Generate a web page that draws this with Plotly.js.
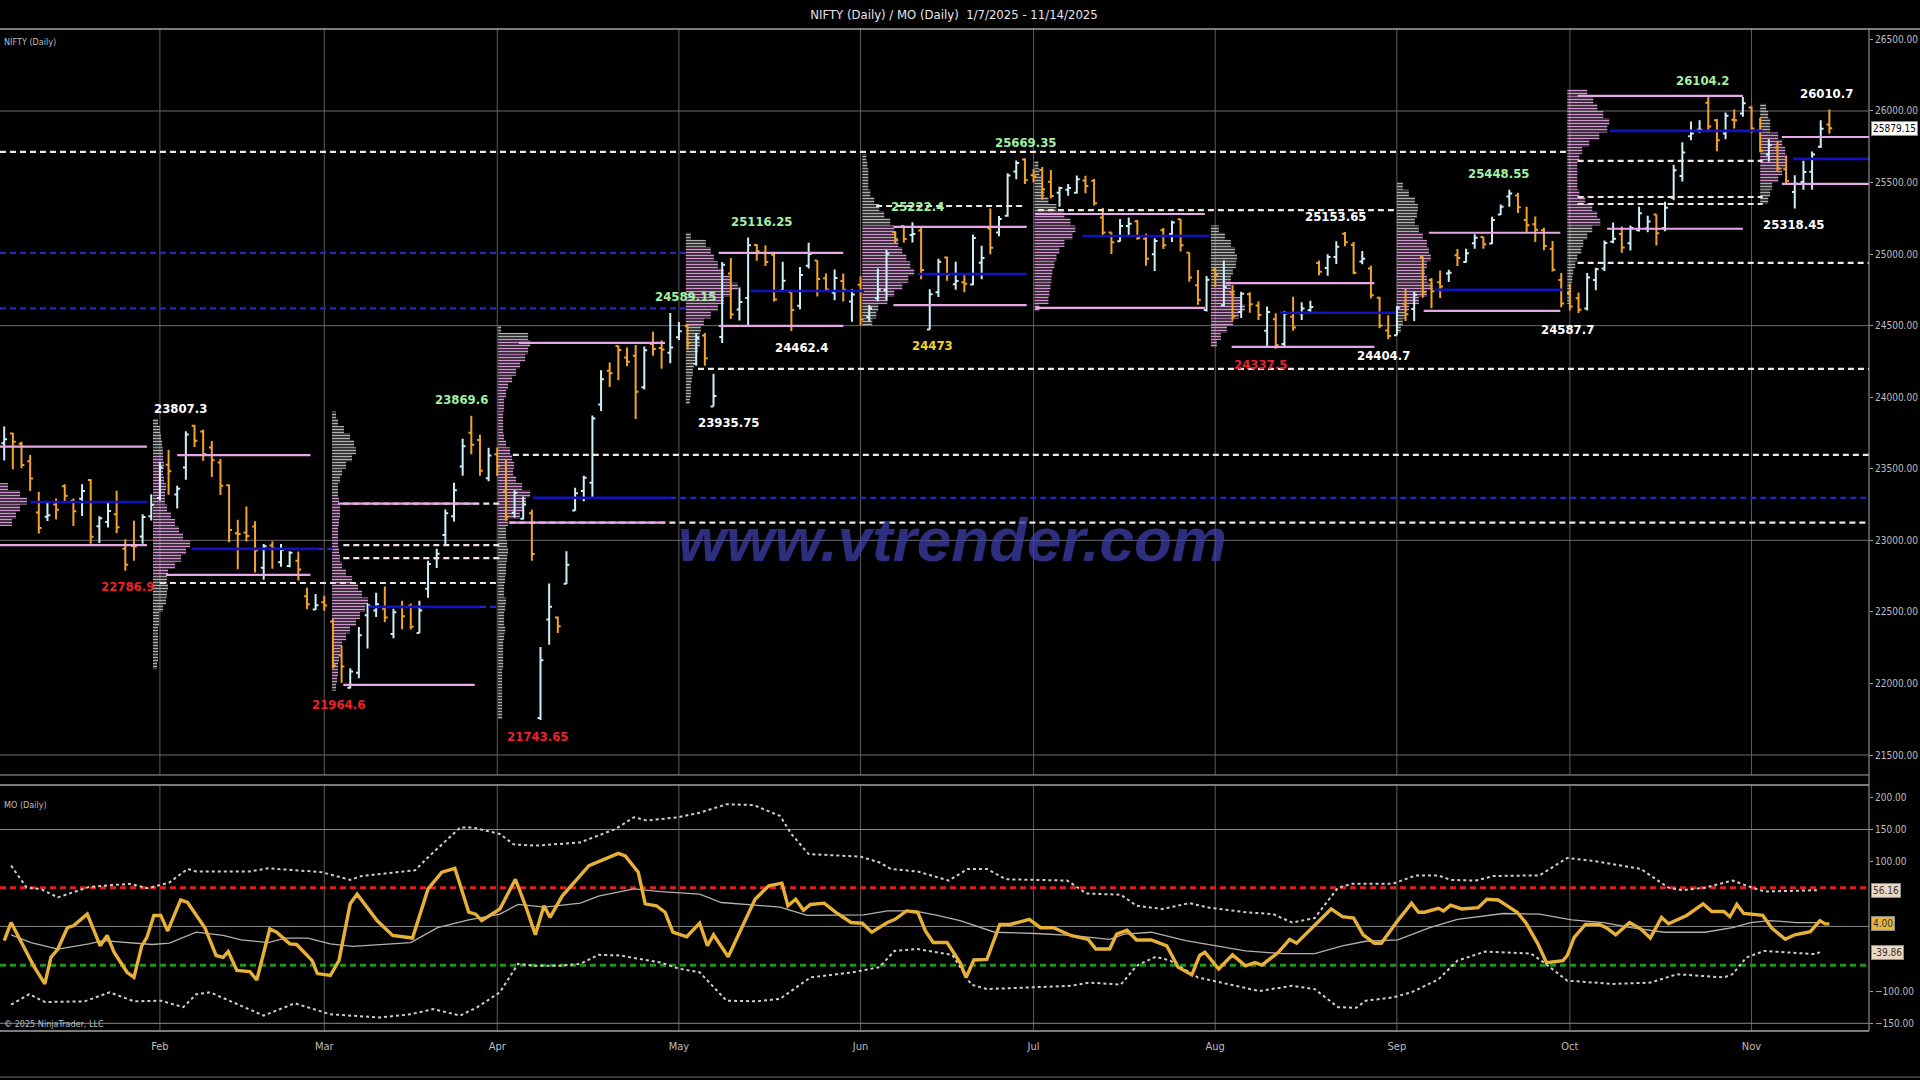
<!DOCTYPE html>
<html><head><meta charset="utf-8">
<script src="https://cdn.plot.ly/plotly-3.0.1.min.js"></script>
<style>html,body{margin:0;padding:0;background:#000;}#chart{width:1920px;height:1080px;}</style>
</head><body><div id="chart"></div>
<script>
// ---------------- DATA ----------------
const open  = [23679,23746,23674,23552,23195,23165,23250,23377,23277,23290,23421,23099,23128,23183,22941,22961,23026,23169,23296,
 23528,23320,23509,23801,23761,23649,23543,23384,23050,23055,23097,22809,22963,22847,22821,22857,22610,22516,22568,22433,
 22195,21970,22074,22476,22509,22522,22346,22537,22541,22353,22662,22874,23037,23168,23515,23751,23701,23433,23601,
 23342,23192,23151,23190,21758,22446,22460,22696,23208,23345,23402,23949,24185,24357,24277,24289,24070,24371,24343,
 24311,24419,24500,24234,24431,23935,24420,24864,24613,24694,25064,25005,24996,24745,24733,24639,24919,24956,24832,24729,24812,
 24669,24786,24560,24691,24749,25155,25196,25134,25164,24473,24733,24977,24789,24803,24787,24939,25179,25150,25268,25577,25661,
 25551,25588,25505,25428,25450,25428,25514,25512,25255,25150,25090,25196,25230,25108,24999,25167,25140,25243,25010,24782,24609,24890,24642,
 24734,24596,24720,24641,24464,24544,24371,24563,24586,24607,24938,24903,24980,25142,25065,24949,24900,24695,24466,
 24433,24653,24616,24980,24819,24803,24864,24991,24945,25075,25119,25074,25277,25403,25410,25238,25209,25167,25035,24819,24728,24691,
 24620,24819,24899,25086,25140,25075,25167,25179,25277,25182,25394,25546,25824,25868,26057,25935,25843,25939,25982,26025,25864,
 25696,25745,25593,25433,25504,25576,25750,25906];
const high  = [23795,23751,23689,23596,23340,23264,23293,23391,23292,23391,23426,23169,23270,23347,23007,23137,23183,23322,23546,
 23632,23381,23763,23807,23773,23694,23568,23390,23144,23236,23133,22975,22993,22975,22923,22922,22668,22625,22613,22450,
 22262,22106,22395,22556,22633,22677,22522,22578,22558,22577,22857,22941,23216,23403,23709,23870,23737,23647,23649,
 23565,23350,23306,23214,22254,22698,22468,22924,23368,23452,23873,24189,24242,24359,24347,24365,24355,24457,24396,
 24589,24526,24510,24449,24448,24164,24944,24973,24767,25116,25070,25062,25010,24946,24733,24909,25079,24956,24865,24892,24864,
 24754,24845,24644,24899,25029,25160,25199,25222,25196,24754,24968,24983,24947,24863,25137,25058,25318,25266,25565,25654,25669,
 25593,25608,25587,25470,25489,25549,25548,25525,25322,25151,25245,25255,25238,25144,25111,25182,25233,25246,25011,24889,24847,24902,24956,
 24784,24736,24734,24671,24634,24586,24602,24702,24664,24674,24956,24999,25089,25154,25084,25022,24919,24702,24572,
 24636,24756,24737,24981,24833,24886,24891,25036,25037,25139,25120,25261,25346,25449,25429,25331,25262,25184,25092,24868,24791,24731,
 24867,24904,25095,25220,25192,25199,25331,25267,25277,25366,25625,25781,25927,25935,26104,25944,25990,26011,26098,26033,25953,
 25803,25788,25679,25551,25653,25717,25935,26011];
const low   = [23557,23496,23503,23344,23047,23135,23146,23273,23100,23170,22976,22981,23090,23050,22787,22857,22976,23139,23278,
 23318,23222,23423,23652,23556,23443,23316,22987,22798,22992,22775,22725,22801,22815,22812,22720,22518,22513,22508,22105,
 22005,21965,22036,22245,22464,22429,22315,22378,22377,22353,22599,22807,22974,23132,23452,23601,23452,23413,23450,
 23136,23158,23145,22858,21744,22270,22353,22695,23207,23273,23299,23903,24072,24119,24216,23847,24054,24290,24198,
 24238,24400,24331,24220,24220,23936,24378,24547,24536,24494,24953,24916,24669,24737,24462,24614,24900,24704,24737,24677,24669,
 24527,24502,24530,24671,24674,25077,25081,25081,24825,24473,24700,24813,24750,24733,24784,24824,24999,25125,25260,25523,25489,
 25501,25379,25388,25331,25408,25424,25425,25340,25129,25001,25088,25121,25100,24918,24882,25036,25085,25018,24806,24646,24599,24771,24636,
 24535,24554,24590,24539,24345,24338,24347,24465,24539,24586,24852,24848,24930,25054,24859,24929,24689,24481,24405,
 24433,24532,24533,24695,24621,24693,24805,24916,24941,25038,25038,25070,25273,25330,25287,25151,25084,25027,24878,24629,24606,24588,
 24605,24747,24881,25076,25009,25025,25157,25152,25060,25159,25376,25508,25795,25848,25863,25718,25803,25877,25960,25846,25712,
 25645,25578,25491,25318,25449,25449,25741,25840];
const close = [23707,23689,23526,23432,23086,23176,23213,23312,23203,23345,23025,23155,23205,23092,22829,22957,23163,23249,23508,
 23482,23361,23739,23696,23603,23560,23381,23072,23045,23031,22929,22959,22945,22933,22913,22796,22553,22547,22545,22125,
 22119,22083,22337,22545,22553,22460,22497,22470,22397,22509,22834,22907,23190,23350,23658,23668,23486,23592,23519,
 23165,23332,23250,22904,22162,22536,22399,22829,23329,23437,23852,24126,24167,24329,24247,24039,24328,24336,24334,
 24347,24461,24380,24414,24273,24008,24925,24578,24666,25062,25020,24945,24683,24813,24610,24853,25001,24826,24752,24833,24751,
 24717,24543,24621,24751,25003,25103,25105,25141,24888,24719,24947,24853,24812,24793,25112,24972,25045,25245,25549,25637,25517,
 25542,25453,25405,25461,25461,25523,25476,25355,25150,25082,25196,25212,25112,24968,25091,25061,25220,25062,24837,24681,24821,24855,24768,
 24565,24723,24650,24574,24596,24363,24585,24487,24619,24631,24877,24980,25051,25083,24870,24968,24712,24501,24427,
 24625,24580,24716,24734,24741,24773,24869,24973,25005,25114,25069,25239,25330,25424,25327,25202,25170,25057,24891,24655,24634,24611,
 24836,24894,25077,25108,25046,25182,25285,25227,25146,25324,25586,25710,25843,25869,25891,25795,25966,25936,26054,25878,25722,
 25763,25598,25510,25492,25574,25695,25876,25879];

const monthIdx   = [18,37,57,78,99,119,140,161,181,202];
const monthNames = ['Feb','Mar','Apr','May','Jun','Jul','Aug','Sep','Oct','Nov'];
const priceTicks = [21500,22000,22500,23000,23500,24000,24500,25000,25500,26000,26500];
const priceGrid  = [21500,23000,24500,26000];
const moTicks    = [-150,-100,100,150,200];
const moGrid     = [-150,0,150];
const moUpperLvl = 60, moLowerLvl = -60;

// volume profiles (volume units, lowest price level first, 50-pt levels)
const volJan = [12,16,20,27,20,8];
const volFeb = [4,5,5,5,5,5,6,6,10,13,14,15,14,15,22,28,33,37,30,26,22,18,14,12,12,13,11,10,11,10,10,9,8,7,5];
const volMar = [4,5,6,6,7,8,10,14,18,24,28,33,36,30,26,20,14,10,8,7,6,6,6,7,8,8,7,6,6,8,10,14,20,24,22,18,12,6,4];
const volApr = [4,4,4,4,4,4,4,5,5,5,5,6,7,6,6,7,8,6,6,7,8,8,9,10,9,8,8,10,22,25,28,32,24,18,15,16,14,12,8,6,5,5,5,6,6,8,10,14,18,22,27,30,32,30,3];
const volMay = [4,5,5,6,7,8,10,12,14,14,15,18,25,32,38,45,52,45,38,32,28,25,20,5];
const volJun = [10,14,16,25,32,40,46,52,48,44,40,36,34,32,28,22,17,12,8,6,6,6,5,4];
const volJul = [5,14,15,16,17,18,20,22,25,30,38,41,36,30,22,14,10,8,7,5,4];
const volAug = [6,10,16,22,28,34,30,24,20,20,22,25,26,24,20,14,8];
const volSep = [4,6,8,12,22,30,36,30,28,30,34,32,30,26,22,18,20,21,18,12,6];
const volOct = [4,4,4,5,6,8,10,14,16,20,25,33,30,25,18,12,10,10,10,10,12,15,22,32,40,42,36,30,26,20];
const volNov = [8,10,12,18,22,25,27,25,22,18,10,10,8,6];
const profVols  = [volJan,volFeb,volMar,volApr,volMay,volJun,volJul,volAug,volSep,volOct,volNov];
const profStart = [-0.49,17.2,37.9,57.1,78.8,99.2,119.1,139.5,161.0,180.7,203.0];
const profLow   = [23100,22100,21950,21750,23950,24500,24600,24350,24450,24650,25350];
const vaLow     = [22967,22758,21990,23124,24498,24644,24624,24352,24603,25177,25490];
const vaHigh    = [23655,23596,23256,24380,25008,25190,25280,24797,25149,26106,25818];

// value-area high/low lines
const pinkP  = [23655,22967,23596,22758,23256,21990,24380,23124,25008,24498,25190,24644,25280,24624,24797,24352,25149,24603,26106,25177,25818,25490];
const pinkX0 = [-0.49,-0.49,20.0,18.7,38.6,39.2,59.5,58.4,82.6,82.6,102.8,102.8,119.2,119.2,141.2,141.9,164.7,164.1,181.9,185.3,205.5,205.5];
const pinkX1 = [16.5,16.5,35.4,35.4,54.4,54.4,76.4,76.4,97.0,97.0,118.2,118.2,138.8,138.8,158.4,158.4,179.9,179.9,201.0,201.0,215.6,215.6];
// POC lines
const pocP  = [23268,22940,22535,23297,24742,24860,25126,24590,24750,25861,25665];
const pocX0 = [3.0,21.7,42.1,61.1,86.3,105.6,124.6,147.5,165.4,185.6,206.8];
const pocX1 = [16.6,36.2,55.0,77.0,99.4,118.2,139.3,160.8,180.1,203.3,215.6];
// naked POC (dashed blue)
const bdP  = [22940,22535,23297,25008,24620];
const bdX0 = [36.2,55.0,77.0,-0.49,-0.49];
const bdX1 = [38.0,57.3,215.6,78.8,78.8];
// dashed white levels
const wdP  = [25714,22702,23256,22967,22876,23597,23124,24198,25336,25307,25651,25399,25350,24938];
const wdX0 = [-0.49,18.0,39.2,39.2,39.2,58.8,58.4,80.2,100.8,119.5,181.9,181.9,181.9,181.9];
const wdX1 = [180.7,57.3,57.3,57.3,57.3,215.6,215.6,215.6,118.0,160.8,203.3,203.3,203.3,215.6];

// swing labels
const lblText = ['22786.9','23807.3','21964.6','23869.6','21743.65','24589.15','25116.25','24462.4','23935.75','25222.4','24473','25669.35','25153.65','24337.5','24404.7','25448.55','24587.7','26104.2','26010.7','25318.45'];
const lblIdx  = [14.2,20.4,38.6,52.9,61.6,78.8,87.6,92.2,83.7,105.6,107.3,118.1,153.9,145.2,159.4,172.7,180.7,196.3,210.7,206.8];
const lblSide = [-1,1,-1,1,-1,1,1,-1,-1,1,-1,1,1,-1,-1,1,-1,1,1,-1];
const lblKind = ['r','w','r','g','r','g','g','w','w','g','y','g','w','r','w','g','w','g','w','w'];

// MO oscillator (bar index, value)
const moX = [0,0.8,3.4,4.7,5.4,6.2,7.3,8,9.6,11.1,11.9,12.7,14.2,15,15.9,16.5,17.3,18.1,18.9,20.4,21.2,23.2,24.5,25.3,25.9,26.9,28.4,29.2,30.7,31.5,33,33.8,35.6,36.2,37.7,38.7,40,40.8,43.1,44.9,47.2,49,50.6,52.1,53.7,54.5,55.2,57.3,59.1,60.4,61.4,62.4,63.1,64.5,67.6,71,71.8,73.3,74.1,75.4,76.4,77.3,78.9,80.4,81.3,82,83.7,85.3,86.8,88.4,89.9,90.6,91.5,92.4,93.2,94.8,96.1,97.9,99.2,100.3,102.1,103,104.3,105.6,106.5,107.4,109,110.5,111.2,112.1,113.6,115.1,116.3,118.5,119.8,121.3,123.3,125.3,126.2,127.8,128.6,129.8,130.9,132.6,133.5,134.4,135.7,137.3,138.2,138.8,139.3,140.4,142,143.5,144.6,145.4,147.3,148.6,149.4,151.2,153.4,154.7,156,157.1,158.4,159.2,161.1,162.7,163.5,164.2,165.8,166.4,167.2,168.5,170.4,171.4,172.7,174.9,175.9,177.3,178.3,180.2,180.7,181.5,182.8,184.4,185.2,186.3,187.9,189.2,190.3,191.6,192.4,194.5,196.4,197.4,198.8,199.5,200.3,201.1,203.3,204.3,205.9,207,208.8,209.9,210.5,211];
const moV = [-22,6,-61,-89,-48,-35,-2,1,19,-30,-14,-40,-71,-79,-30,-17,17,17,-7,41,37,-2,-45,-48,-39,-68,-70,-83,-4,-9,-27,-28,-53,-73,-76,-53,35,50,9,-14,-18,58,84,90,22,19,9,27,73,27,-13,32,14,47,94,113,109,84,35,32,22,-9,-16,5,-30,-13,-47,-2,42,63,67,32,42,25,34,36,22,6,5,-9,6,11,24,22,-7,-25,-25,-56,-79,-52,-51,3,3,11,-2,-2,-14,-20,-35,-35,-12,-6,-21,-21,-26,-30,-63,-75,-45,-40,-48,-66,-44,-61,-56,-60,-40,-20,-26,-2,27,15,13,-13,-26,-26,9,36,22,22,28,24,33,27,29,42,41,22,6,-27,-56,-53,-45,-17,3,3,-2,-13,6,-4,-18,14,4,17,35,23,23,15,34,20,17,-2,-20,-13,-8,9,4,4];
const sigX = [0.8,3.1,6.2,9.8,11.4,14.5,17.1,19.1,22.2,25.3,27.4,30.5,32.5,35.1,37.7,40.3,43.9,47,50.1,53.7,57.3,59.4,62.5,66.6,68.7,72.8,75.9,80.4,82.9,86.2,89.7,92.8,95.5,99.4,102.1,105.2,107.9,110.5,114.5,119.3,123.3,127.8,129.5,132.6,136.6,140.3,143.5,147.8,151.5,154.7,157.4,161.1,164.8,168,173.3,177.5,181.2,184.9,188.1,191.9,196.6,199.8,201.9,204.1,207.2,209.9];
const sigV = [-13,-25,-35,-27,-22,-25,-28,-26,-9,-14,-21,-25,-18,-18,-27,-31,-28,-25,-2,10,19,34,30,36,47,58,54,50,37,34,30,17,17,18,24,24,17,9,-9,-11,-14,-20,-12,-9,-22,-31,-38,-42,-42,-30,-23,-21,-2,11,20,19,10,6,-2,-9,-9,-2,6,9,6,6];
const upX = [0.8,2.6,4.2,6.2,9.8,14.5,16.6,19.1,21.2,22.2,28.4,30.5,36.7,40,41.3,47.5,49,51.1,52.7,54.2,57.3,58.9,61.4,66.6,70.7,72.8,74.3,77.9,80.4,83.5,86.6,89.7,91,93,99,101.2,102.5,105.6,109.2,111.4,113.6,115.8,118.9,122.9,125.1,129.1,130.9,133.9,137,139.3,143.5,146.7,148.9,151.5,154.2,155.8,160.5,163.2,165.8,167.2,170.1,172.2,177.5,180.7,183.9,186,189.2,192.4,194,196.6,199.8,201.9,203.5,209.9];
const upV = [94,60,58,45,61,66,59,68,89,85,85,90,84,72,78,87,107,133,153,153,143,127,125,130,151,169,164,169,176,189,188,171,143,112,108,99,89,85,71,89,89,73,72,71,51,49,32,27,36,29,22,19,6,13,60,66,66,79,79,72,71,78,79,106,101,96,89,60,56,60,71,61,54,56.16];
const loX = [0.8,2.9,4.7,9.3,12.2,15,18.1,20.7,22.2,23.8,27.4,30,33.6,37.7,43.4,47,49.6,52.7,54.7,57.3,59.4,61.4,64,66.6,68.7,71.2,75.9,77.9,80.4,83.5,87,89.7,93.2,98.1,101.2,102.9,105.6,109.6,111.8,113.6,123.3,125.5,129.1,130.9,133.1,134.8,138,141.4,145.1,148.9,151.5,154.2,156.3,157.4,160.5,162.7,165.8,168,171.2,176.5,178,180.7,183.9,186,190.3,193.4,198.8,199.8,201.4,203.5,209.4,209.9];
const loV = [-121,-105,-117,-116,-102,-116,-115,-125,-105,-102,-123,-138,-119,-136,-141,-136,-128,-138,-125,-102,-58,-61,-61,-58,-44,-45,-56,-65,-71,-115,-116,-112,-79,-71,-63,-38,-35,-44,-90,-97,-92,-87,-90,-61,-47,-53,-79,-89,-100,-92,-97,-125,-126,-115,-110,-102,-82,-53,-39,-42,-56,-84,-87,-89,-87,-74,-79,-74,-48,-38,-43,-39.86];
const lastPrice = 25879.15, lastMO = 4.00, lastUp = 56.16, lastLo = -39.86;

// ---------------- BUILD ----------------
const FONT = 'Liberation Sans Narrow, Arial Narrow, DejaVu Sans Condensed, sans-serif';
const idx = open.map((_, i) => i);
const traces = [];

// profiles
const pY = [], pX = [], pB = [], pC = [];
profVols.forEach((vols, m) => {
  vols.forEach((v, k) => {
    const price = profLow[m] + 50 * k;
    pY.push(price + 25); pX.push(v / 8.65); pB.push(profStart[m]);
    pC.push(price + 25 >= vaLow[m] && price + 25 <= vaHigh[m] + 25 ? '#d096d0' : '#b0b0b0');
  });
});
traces.push({type:'bar', orientation:'h', y:pY, x:pX, base:pB, width:50, xaxis:'x', yaxis:'y',
  marker:{color:pC, line:{width:0}, pattern:{shape:'-', fillmode:'replace', size:3, solidity:0.55}},
  hoverinfo:'skip'});

function seg(P, X0, X1, color, width, dash) {
  const x = [], y = [];
  P.forEach((p, k) => { x.push(X0[k], X1[k], null); y.push(p, p, null); });
  return {type:'scatter', mode:'lines', x, y, xaxis:'x', yaxis:'y', hoverinfo:'skip',
    line:{color, width, dash: dash || 'solid'}};
}
traces.push(seg(wdP, wdX0, wdX1, '#f2e4e4', 2.2, '6px,4px'));
traces.push(seg(bdP, bdX0, bdX1, '#2424c8', 2.2, '6px,4px'));
traces.push(seg(pinkP, pinkX0, pinkX1, '#e6a8e6', 2.2));
traces.push(seg(pocP, pocX0, pocX1, '#1212c0', 2.6));

traces.push({type:'ohlc', x:idx, open, high, low, close, xaxis:'x', yaxis:'y', tickwidth:0.33,
  increasing:{line:{color:'#cdeff7', width:2}}, decreasing:{line:{color:'#f2a42a', width:2}}, hoverinfo:'skip'});

// MO panel
traces.push({type:'scatter', mode:'lines', x:upX, y:upV, xaxis:'x', yaxis:'y2', line:{color:'#d6cec6', width:2, dash:'dot'}, hoverinfo:'skip'});
traces.push({type:'scatter', mode:'lines', x:loX, y:loV, xaxis:'x', yaxis:'y2', line:{color:'#d6cec6', width:2, dash:'dot'}, hoverinfo:'skip'});
traces.push({type:'scatter', mode:'lines', x:sigX, y:sigV, xaxis:'x', yaxis:'y2', line:{color:'#b4b0ac', width:1.3}, hoverinfo:'skip'});
traces.push({type:'scatter', mode:'lines', x:moX, y:moV, xaxis:'x', yaxis:'y2', line:{color:'#e6b136', width:3.4}, hoverinfo:'skip'});

// shapes
const shapes = [];
monthIdx.forEach(i => {
  ['y domain','y2 domain'].forEach(yr => shapes.push({type:'line', xref:'x', yref:yr, x0:i, x1:i, y0:0, y1:1, layer:'below', line:{color:'#5c5c5c', width:1}}));
});
priceGrid.forEach(p => shapes.push({type:'line', xref:'x domain', yref:'y', x0:0, x1:1, y0:p, y1:p, layer:'below', line:{color:'#6c6c6c', width:1}}));
moGrid.forEach(p => shapes.push({type:'line', xref:'x domain', yref:'y2', x0:0, x1:1, y0:p, y1:p, layer:'below', line:{color:'#8a8a8a', width:1}}));
shapes.push({type:'line', xref:'x domain', yref:'y2', x0:0, x1:1, y0:moUpperLvl, y1:moUpperLvl, layer:'below', line:{color:'#e41e1e', width:3, dash:'6px,4px'}});
shapes.push({type:'line', xref:'x domain', yref:'y2', x0:0, x1:1, y0:moLowerLvl, y1:moLowerLvl, layer:'below', line:{color:'#1e961e', width:3, dash:'6px,4px'}});
// frame
const fr = '#a4a4a4';
shapes.push({type:'line', xref:'paper', yref:'paper', x0:0, x1:1.028, y0:1, y1:1, line:{color:fr, width:1.5}});
shapes.push({type:'line', xref:'paper', yref:'y domain', x0:0, x1:1, y0:0, y1:0, line:{color:fr, width:1}});
shapes.push({type:'line', xref:'paper', yref:'y2 domain', x0:0, x1:1, y0:1, y1:1, line:{color:fr, width:1.5}});
shapes.push({type:'line', xref:'paper', yref:'y2 domain', x0:0, x1:1, y0:0, y1:0, line:{color:fr, width:1.5}});
shapes.push({type:'line', xref:'paper', yref:'paper', x0:1, x1:1, y0:0, y1:1, line:{color:fr, width:1}});
shapes.push({type:'line', xref:'paper', yref:'paper', x0:0, x1:1.028, y0:-0.046, y1:-0.046, line:{color:'#707070', width:1}});

// annotations
const lblColors = {r:'#ec2228', w:'#ffffff', g:'#a2f0a2', y:'#f4d22c'};
const ann = lblText.map((t, k) => ({xref:'x', yref:'y', x:lblIdx[k], y:parseFloat(t), yshift:16 * lblSide[k],
  text:t, showarrow:false, font:{family:FONT, size:13, color:lblColors[lblKind[k]], weight:'bold'}}));
ann.push({xref:'paper', yref:'paper', x:953/1869, y:(1031-539)/1002, text:'<b><i>www.vtrender.com</i></b>', showarrow:false,
  font:{family:'Liberation Sans, Arial, sans-serif', size:62, color:'rgba(62,62,170,0.75)'}});
ann.push({xref:'paper', yref:'paper', x:0.001, y:1, yshift:-6, yanchor:'top', xanchor:'left', text:'NIFTY (Daily)', showarrow:false, font:{family:FONT, size:9, color:'#bcbcbc'}});
ann.push({xref:'paper', yref:'y2 domain', x:0.001, y:1, yshift:-13, yanchor:'top', xanchor:'left', text:'MO (Daily)', showarrow:false, font:{family:FONT, size:9, color:'#bcbcbc'}});
ann.push({xref:'paper', yref:'y2 domain', x:0.001, y:0, yshift:7, yanchor:'middle', xanchor:'left', text:'© 2025 NinjaTrader, LLC', showarrow:false, font:{family:FONT, size:9, color:'#bcbcbc'}});
function box(y, yref, txt, bg, fg) {
  return {xref:'paper', yref, x:1, xshift:2, xanchor:'left', y, text:txt, showarrow:false, bgcolor:bg, bordercolor:'#8a8a8a', borderwidth:1, borderpad:1,
    font:{family:FONT, size:10, color:fg}};
}
ann.push(box(lastPrice, 'y', lastPrice.toFixed(2), '#ffffff', '#000000'));
ann.push(box(lastUp, 'y2', lastUp.toFixed(2), '#e9d7c3', '#333333'));
ann.push(box(lastMO, 'y2', lastMO.toFixed(2), '#e8b53a', '#333333'));
ann.push(box(lastLo, 'y2', lastLo.toFixed(2), '#e9d7c3', '#333333'));

const tickFont = {family:FONT, size:10, color:'#bdbdbd'};
const layout = {
  width:1920, height:1080, paper_bgcolor:'#000', plot_bgcolor:'#000',
  margin:{l:0, r:51, t:29, b:49, pad:0}, showlegend:false, barmode:'overlay',
  title:{text:'NIFTY (Daily) / MO (Daily) \u00a01/7/2025 - 11/14/2025', xref:'container', x:954/1920, xanchor:'center',
    yref:'container', y:1 - 14/1080, yanchor:'middle', font:{family:FONT, size:13, color:'#e6e6e6'}},
  xaxis:{range:[-0.486, 215.58], anchor:'y2', showgrid:false, zeroline:false, showline:false, tickvals:monthIdx, ticktext:monthNames,
    ticks:'', tickfont:{family:FONT, size:11, color:'#bdbdbd'}, ticklabelstandoff:7, rangeslider:{visible:false}, fixedrange:true},
  yaxis:{domain:[0.2555, 1], range:[21360.4, 26572.7], side:'right', anchor:'x', tickvals:priceTicks, tickformat:'.2f',
    ticks:'outside', ticklen:3, tickcolor:'#a0a0a0', tickfont:tickFont, showgrid:false, zeroline:false, showline:false},
  yaxis2:{domain:[0, 0.2455], range:[-161.9, 218.9], side:'right', anchor:'x', tickvals:moTicks, tickformat:'.2f',
    ticks:'outside', ticklen:3, tickcolor:'#a0a0a0', tickfont:tickFont, showgrid:false, zeroline:false, showline:false},
  shapes, annotations:ann
};
Plotly.newPlot('chart', traces, layout, {staticPlot:true, displayModeBar:false});
</script></body></html>
